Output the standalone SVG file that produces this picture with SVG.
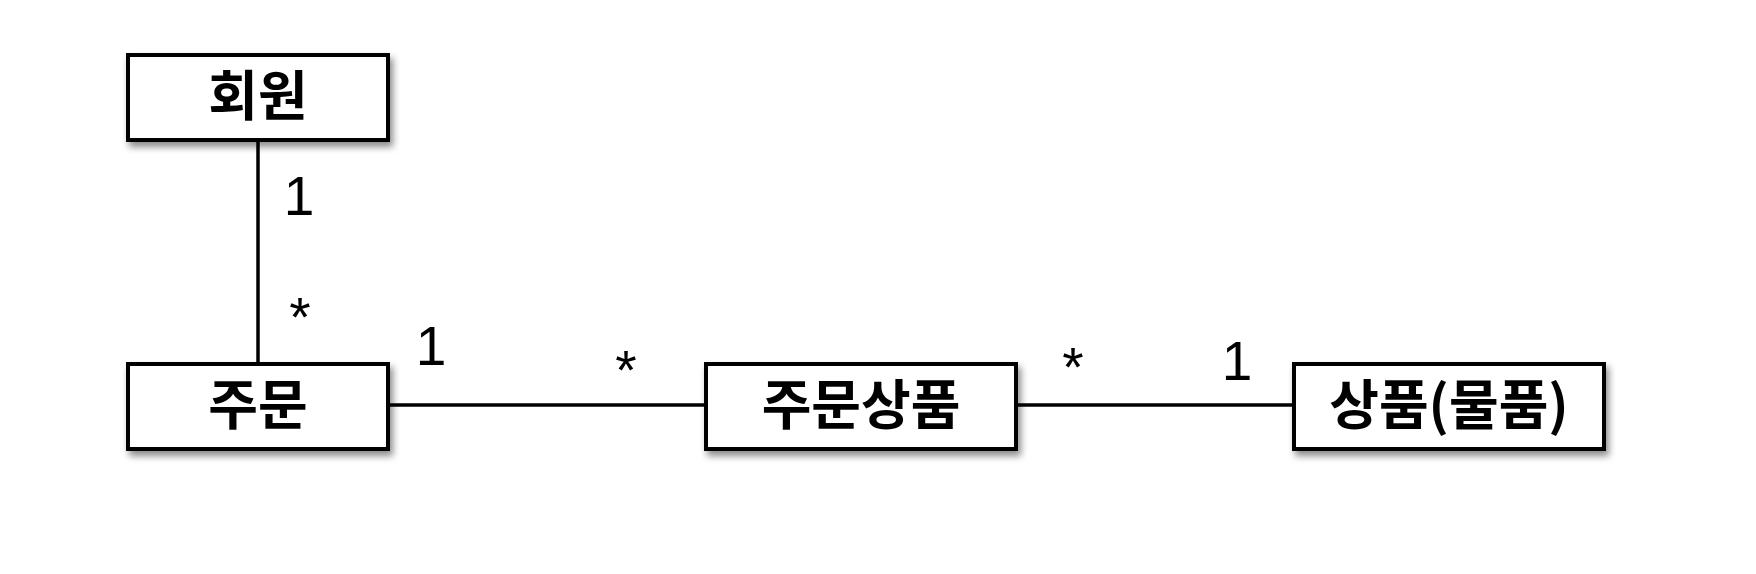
<svg xmlns="http://www.w3.org/2000/svg" width="1756" height="574" viewBox="0 0 1756 574">
<style>
.box{fill:#ffffff;stroke:#000000;stroke-width:4;filter:url(#sh)}
.lbl{font-family:"Noto Sans CJK KR","Noto Sans",sans-serif;font-weight:bold;font-size:54px;fill:#000;text-anchor:middle}
.m{font-family:"Liberation Sans",Arial,sans-serif;font-size:55px;fill:#000;text-anchor:middle}
.ln{stroke:#000;stroke-width:3.5;fill:none}
</style>
<defs>
<filter id="sh" x="-10%" y="-20%" width="130%" height="150%">
<feDropShadow dx="3" dy="5" stdDeviation="3.5" flood-color="#000" flood-opacity="0.45"/>
</filter>
</defs>
<rect width="1756" height="574" fill="#ffffff"/>
<g id="connectors">
<line class="ln" x1="258" y1="140" x2="258" y2="364"/>
<line class="ln" x1="388" y1="405" x2="706" y2="405"/>
<line class="ln" x1="1016" y1="405" x2="1294" y2="405"/>
<text class="m" x="299" y="215">1</text>
<text class="m" x="300" y="336">*</text>
<text class="m" x="431" y="365">1</text>
<text class="m" x="626" y="389">*</text>
<text class="m" x="1073" y="386">*</text>
<text class="m" x="1237" y="380">1</text>
</g>
<g id="member">
<rect class="box" x="128" y="55" width="260" height="85"/>
<text class="lbl" x="258" y="116">회원</text>
</g>
<g id="order">
<rect class="box" x="128" y="364" width="260" height="85"/>
<text class="lbl" x="258" y="425">주문</text>
</g>
<g id="orderitem">
<rect class="box" x="706" y="364" width="310" height="85"/>
<text class="lbl" x="861" y="425">주문상품</text>
</g>
<g id="item">
<rect class="box" x="1294" y="364" width="310" height="85"/>
<text class="lbl" x="1449" y="425">상품(물품)</text>
</g>
</svg>
